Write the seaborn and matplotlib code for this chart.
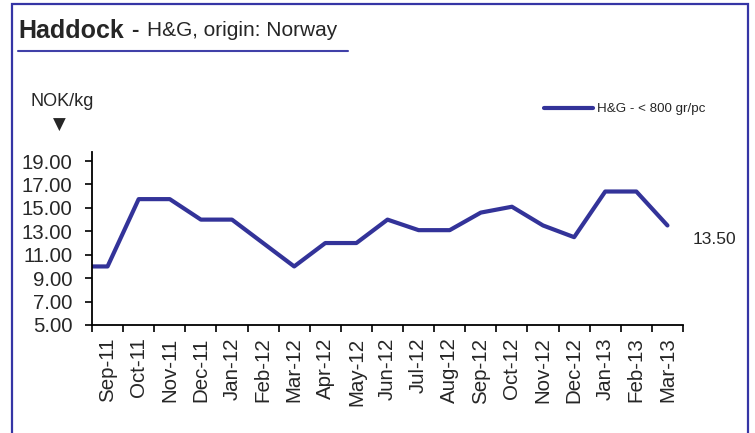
import matplotlib
matplotlib.use("Agg")
import matplotlib.pyplot as plt
import numpy as np
import pandas as pd
import seaborn as sns
from matplotlib.patches import Rectangle
from matplotlib.lines import Line2D

months = ['Sep-11', 'Oct-11', 'Nov-11', 'Dec-11', 'Jan-12', 'Feb-12', 'Mar-12',
          'Apr-12', 'May-12', 'Jun-12', 'Jul-12', 'Aug-12', 'Sep-12', 'Oct-12',
          'Nov-12', 'Dec-12', 'Jan-13', 'Feb-13', 'Mar-13']
prices = [10.0, 15.75, 15.75, 14.0, 14.0, 12.0, 10.0, 12.0, 12.0, 14.0,
          13.1, 13.1, 14.6, 15.1, 13.5, 12.5, 16.4, 16.4, 13.5]
opening_price = 10.0  # price at the start of the period (left edge)
series_name = 'H&G - < 800 gr/pc'
yticks = [5, 7, 9, 11, 13, 15, 17, 19]

navy = '#333399'


def plot_haddock():
    sns.set_style('white')
    plt.rcParams['font.family'] = ['Liberation Sans', 'DejaVu Sans']

    pos = [-0.5] + list(range(len(months)))
    df = pd.DataFrame({'pos': pos, 'price': [opening_price] + prices})

    fig = plt.figure(figsize=(7.55, 4.33), dpi=100)
    ax = fig.add_axes([92 / 755, 1 - 325 / 433, (683 - 92) / 755, (325 - 151.7) / 433])
    sns.lineplot(data=df, x='pos', y='price', ax=ax, color=navy, linewidth=3,
                 sort=False, legend=False)

    ax.set_xlim(-0.5, len(months) - 0.5)
    ax.set_ylim(5, 19.8)
    ax.set_yticks(yticks)
    ax.set_yticklabels(['%.2f' % v for v in yticks], fontsize=14.7)
    ax.set_xticks(np.arange(len(months) + 1) - 0.5)
    ax.set_xticklabels([])
    ax.set_xticks(np.arange(len(months)), minor=True)
    ax.set_xticklabels(months, minor=True, rotation=90, fontsize=14.8)
    ax.tick_params(axis='x', which='minor', length=0, pad=9)
    ax.tick_params(axis='both', which='major', direction='out', length=5,
                   width=1.2, color='black', left=True, bottom=True)
    ax.tick_params(axis='y', pad=9)
    ax.set_xlabel('')
    ax.set_ylabel('')
    for s in ['top', 'right']:
        ax.spines[s].set_visible(False)
    for s in ['left', 'bottom']:
        ax.spines[s].set_color('black')
        ax.spines[s].set_linewidth(1.3)

    # last value label
    ax.annotate('%.2f' % prices[-1], xy=(len(months) - 0.5, prices[-1]),
                xytext=(7, -10), textcoords='offset points', fontsize=12.5,
                va='center', ha='left', annotation_clip=False)

    # legend
    handle = Line2D([], [], color=navy, linewidth=3)
    fig.legend([handle], [series_name], loc='center left',
               bbox_to_anchor=(532 / 755, 1 - 109 / 433), frameon=False,
               fontsize=9.6, handlelength=3.7, handletextpad=0.3)

    # frame, titles
    fig.patches.append(Rectangle((12 / 755, -0.05), (748 - 12) / 755, 1 - 4 / 433 + 0.05,
                                 transform=fig.transFigure, fill=False,
                                 edgecolor='#3535a5', linewidth=1.6))
    fig.text(18 / 755, 1 - 31 / 433, 'Haddock', fontsize=18, fontweight='bold',
             va='center', ha='left')
    fig.text(131 / 755, 1 - 31 / 433, '-', fontsize=16, fontweight='bold',
             va='center', ha='left')
    fig.text(147 / 755, 1 - 31 / 433, 'H&G, origin: Norway', fontsize=15,
             va='center', ha='left')
    fig.add_artist(Line2D([18 / 755, 348 / 755], [1 - 51 / 433, 1 - 51 / 433],
                          color='#4040a8', linewidth=1.5))
    fig.text(30 / 755, 1 - 102 / 433, 'NOK/kg', fontsize=13, va='center', ha='left')
    fig.text(59 / 755, 1 - 125 / 433, '\u25bc', fontsize=12, va='center',
             ha='center', family=['DejaVu Sans'])

    fig.savefig('out.png', dpi=100)


def main():
    return plot_haddock()


if __name__ == "__main__":
    main()
